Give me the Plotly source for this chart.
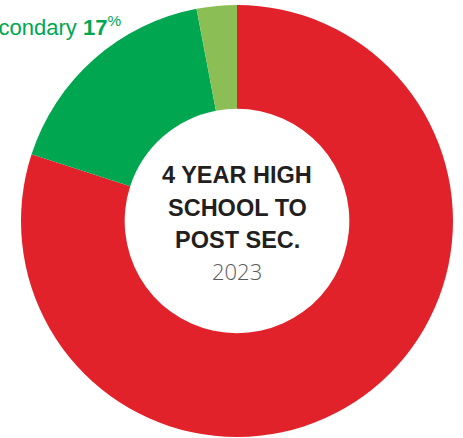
import plotly.graph_objects as go

labels = ["University / other", "Post-secondary", "Other"]
values = [80, 17, 3]
colors = ["#e2222a", "#00a650", "#8bbf56"]

center_title = ["4 YEAR HIGH", "SCHOOL TO", "POST SEC."]
center_year = "2023"
callout_label = "Post-secondary"
callout_value = "17"

W, H = 463, 438
cx, cy, r = 237, 221, 216

fig = go.Figure(go.Pie(
    labels=labels, values=values, sort=False, direction="clockwise", rotation=0,
    hole=0.52, marker=dict(colors=colors, line=dict(width=0)),
    textinfo="none", hoverinfo="label+percent", showlegend=False,
    domain=dict(x=[(cx - r) / W, (cx + r) / W], y=[(H - cy - r) / H, (H - cy + r) / H]),
))

anns = []
ys = [175, 208, 240]
for t, y in zip(center_title, ys):
    anns.append(dict(text=f"<b>{t}</b>", x=cx / W, y=1 - y / H, xref="paper", yref="paper",
                     showarrow=False, xanchor="center", yanchor="middle",
                     font=dict(family="Liberation Sans", size=23.5, color="#231f20")))
anns.append(dict(text=center_year, x=cx / W, y=1 - 271 / H, xref="paper", yref="paper",
                 showarrow=False, xanchor="center", yanchor="middle",
                 font=dict(family="Open Sans", weight=300, size=22, color="#58595b")))
anns.append(dict(text=f"{callout_label} <b>{callout_value}</b><sup>%</sup>", x=123 / W, y=1 - 26 / H,
                 xref="paper", yref="paper", showarrow=False, xanchor="right", yanchor="middle",
                 font=dict(family="Liberation Sans", size=22, color="#00a650")))

fig.update_layout(width=W, height=H, margin=dict(l=0, r=0, t=0, b=0),
                  paper_bgcolor="white", plot_bgcolor="white", annotations=anns)
fig.write_html("out.html")
